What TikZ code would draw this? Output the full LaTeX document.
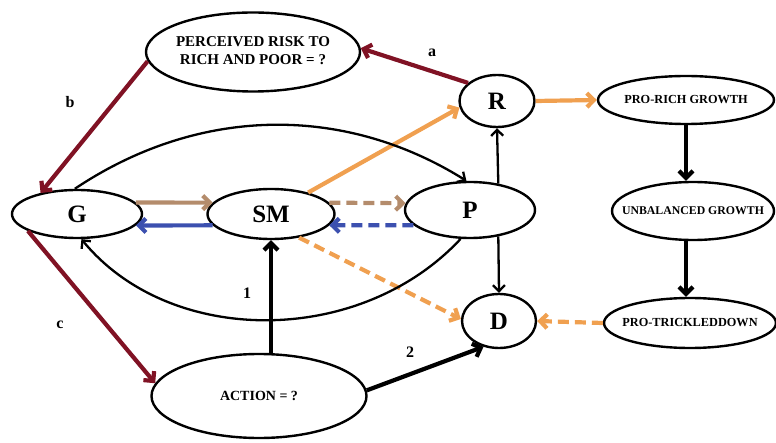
\documentclass[tikz,border=0pt]{standalone}
\usepackage{fontspec}
\setmainfont{Liberation Serif}
\usetikzlibrary{shapes.geometric,arrows.meta}
\definecolor{maroon}{RGB}{128,18,36}
\definecolor{tan}{RGB}{180,140,108}
\definecolor{myblue}{RGB}{60,80,175}
\definecolor{myorange}{RGB}{240,160,80}
\newcommand{\zb}[1]{\makebox[0pt]{#1}}
\tikzset{
  ell/.style={ellipse,draw,line width=2.4pt,inner sep=0pt,font=\bfseries},
  big/.style={font=\fontsize{25}{27}\selectfont\bfseries},
  small/.style={font=\fontsize{12.3}{14}\selectfont\bfseries},
  lbl/.style={font=\fontsize{16}{17}\selectfont\bfseries},
  tip/.style={-{Straight Barb[length=7pt,width=14pt]}},
  thickarr/.style={tip,line width=4.2pt},
  thinarr/.style={-{Straight Barb[length=6pt,width=12pt]},line width=2.3pt},
  dsh/.style={dash pattern=on 11pt off 6pt}
}
\begin{document}
\begin{tikzpicture}[x=1pt,y=1pt]
\useasboundingbox (0,0) rectangle (776,442);
% nodes
\node[ell,minimum width=214pt,minimum height=79pt,font=\fontsize{15}{18}\selectfont\bfseries] (risk) at (253,390) {\zb{\begin{tabular}{@{}c@{}}PERCEIVED RISK TO\\RICH AND POOR = ?\end{tabular}}};
\node[ell,big,minimum width=75pt,minimum height=52pt] (R) at (497,341) {\zb{R}};
\node[ell,small,minimum width=176pt,minimum height=48pt] (prorich) at (686,342) {\zb{PRO-RICH GROWTH}};
\node[ell,big,minimum width=130pt,minimum height=48pt] (G) at (77,228) {\zb{G}};
\node[ell,big,minimum width=127pt,minimum height=50pt] (SM) at (271,228) {\zb{SM}};
\node[ell,big,minimum width=130pt,minimum height=56pt] (P) at (470,232) {\zb{P}};
\node[ell,small,font=\fontsize{11.8}{14}\selectfont\bfseries,minimum width=162pt,minimum height=58pt] (unbal) at (693,231) {\zb{UNBALANCED GROWTH}};
\node[ell,small,minimum width=172pt,minimum height=50pt] (trickle) at (690,119) {\zb{PRO-TRICKLEDDOWN}};
\node[ell,big,minimum width=74pt,minimum height=54pt] (D) at (499,121) {\zb{D}};
\node[ell,minimum width=215pt,minimum height=84pt,font=\fontsize{14}{16}\selectfont\bfseries] (action) at (259,46) {\zb{ACTION = ?}};
% labels
\node[lbl] (la) at (432,389) {a};
\node[lbl] (lb) at (70,340) {b};
\node[lbl] (lc) at (60,117) {c};
\node[lbl] (l1) at (247,149) {1};
\node[lbl] (l2) at (410,90) {2};
% maroon edges
\draw[thickarr,maroon] (R.148) -- (risk.2);
\draw[thickarr,maroon] (risk.185) -- (G.150);
\draw[thickarr,maroon] (G.199) -- (action.173);
% G <-> SM
\draw[thickarr,tan] (G.11) -- (SM.169);
\draw[thickarr,myblue] (SM.191) -- (G.-11);
% SM <-> P dashed
\draw[thickarr,tan,dsh] (SM.11) -- (P.174);
\draw[thickarr,myblue,dsh] (P.195) -- (SM.-11);
% orange
\draw[thickarr,myorange] (SM.30) -- (R.190);
\draw[thickarr,myorange,dsh] (SM.-40) -- (D.177);
\draw[thickarr,myorange] (R.east) -- (prorich.west);
\draw[thickarr,myorange,dsh] (trickle.west) -- (D.east);
% right column
\draw[thickarr] (prorich.south) -- (prorich.south |- unbal.north);
\draw[thickarr] (unbal.south -| prorich.south) -- (prorich.south |- trickle.north);
% P to R and D
\draw[thinarr] (P.43) -- (R.south);
\draw[thinarr] (P.-43) -- (D.north);
% action
\draw[thickarr] (SM.south |- action.north) -- (SM.south);
\draw[thickarr] (action.3) -- (D.239);
% curves
\draw[thinarr] (G.95) .. controls (200,337) and (345,337) .. (P.97);
\draw[thinarr] (P.252) .. controls (360,95) and (170,95) .. (G.-80);
\end{tikzpicture}
\end{document}
